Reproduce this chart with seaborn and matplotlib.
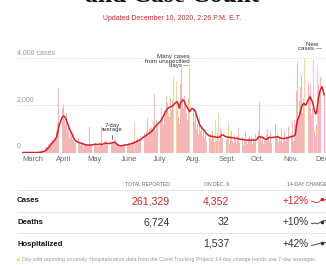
import numpy as np
import pandas as pd
import matplotlib
matplotlib.use('Agg')
import matplotlib.pyplot as plt
import seaborn as sns

sns.set_style('white')
plt.rcParams['font.family'] = ['Liberation Sans', 'DejaVu Sans']

RED = '#d1232a'
PINK = '#f4b6b6'
YELLOW = '#fbd49a'
GRAY = '#999999'

# daily new cases, one list per month (Mar 1 .. Dec 9)
mar = [0, 0, 0, 0, 0, 0, 0, 0, 0, 0, 5, 6, 17, 8, 33, 24, 57, 60, 84, 112,
       167, 222, 253, 232, 345, 300, 420, 390, 520, 480, 560]
apr = [650, 900, 1300, 2730, 2450, 1500, 1900, 2000, 1400, 1200, 1700, 900, 1150, 600, 1000,
       700, 550, 800, 420, 480, 520, 600, 350, 300, 450, 380, 250, 420, 340, 300]
may = [300, 280, 1070, 350, 260, 200, 330, 420, 380, 250, 310, 280, 400, 1100, 350, 260,
       430, 470, 390, 320, 500, 380, 360, 450, 420, 520, 600, 380, 310, 260, 230]
jun = [250, 300, 320, 270, 360, 340, 300, 420, 380, 330, 450, 400, 480, 1310, 380,
       520, 600, 450, 560, 700, 640, 620, 820, 760, 900, 1450, 700, 980, 1050, 1100]
jul = [1000, 1300, 2500, 900, 1400, 1150, 1600, 1300, 1900, 1500, 1200, 1800, 1650, 2400, 2100,
       1700, 1500, 2300, 1800, 2200, 3200, 2000, 3000, 1800, 1500, 1200, 2900, 3580, 2300, 1900, 2400]
aug = [2100, 1700, 1400, 2300, 3620, 1500, 2400, 1900, 1300, 1600, 1000, 1200, 800, 1500, 900,
       1100, 700, 1000, 600, 900, 500, 850, 600, 780, 520, 900, 700, 450, 1380, 500, 820]
sep = [1640, 500, 1100, 900, 600, 400, 800, 550, 700, 1250, 350, 650, 900, 500, 400,
       750, 600, 380, 700, 1050, 420, 500, 650, 300, 550, 900, 480, 350, 600, 700]
oct_ = [500, 650, 350, 600, 450, 800, 400, 900, 2160, 600, 500, 700, 350, 550, 480,
        800, 1000, 650, 500, 900, 400, 700, 550, 1200, 600, 800, 450, 650, 500, 1000, 400]
nov = [550, 900, 500, 700, 650, 1100, 600, 800, 1300, 500, 1400, 1200, 2600, 3860, 1500,
       2200, 2800, 3300, 1700, 2300, 4000, 1800, 2400, 3000, 2500, 2900, 1600, 1900, 3940, 900]
dec = [700, 1200, 3720, 2900, 2600, 3200, 2100, 4400, 2500]

# 7-day average
avg_mar = [0, 0, 0, 0, 0, 0, 0, 0, 0, 0, 0, 0, 0, 0, 0, 0, 0,
           10, 20, 30, 45, 60, 100, 150, 200, 250, 310, 380, 420, 470, 530]
avg_apr = [600, 670, 900, 1100, 1250, 1380, 1480, 1540, 1550, 1480, 1380, 1250, 1130, 1000, 900,
           820, 700, 600, 540, 490, 460, 440, 420, 400, 390, 380, 360, 340, 330, 320]
avg_may = [320, 320, 310, 320, 320, 330, 340, 350, 350, 340, 350, 360, 350, 340, 350, 370,
           390, 400, 390, 380, 380, 390, 400, 410, 430, 440, 420, 380, 340, 310, 290]
avg_jun = [280, 290, 300, 310, 320, 320, 330, 340, 350, 360, 380, 390, 400, 420, 440,
           470, 490, 510, 530, 560, 600, 640, 670, 700, 730, 760, 790, 820, 860, 900]
avg_jul = [950, 1000, 1070, 1120, 1180, 1230, 1270, 1310, 1380, 1450, 1540, 1620, 1720, 1800, 1860,
           1900, 1930, 1950, 1960, 2000, 2050, 2090, 2140, 2160, 2050, 1880, 2100, 2170, 2220, 2230, 2150]
avg_aug = [2020, 1950, 1880, 1800, 1740, 1820, 1880, 1850, 1820, 1760, 1600, 1460, 1330, 1200, 1130,
           1060, 1000, 960, 900, 840, 790, 750, 720, 700, 690, 680, 690, 670, 660, 650, 640]
avg_sep = [650, 660, 700, 740, 750, 720, 690, 670, 660, 650, 650, 640, 640, 630, 620,
           610, 600, 600, 590, 580, 570, 560, 560, 550, 540, 530, 530, 530, 520, 530]
avg_oct = [530, 520, 530, 530, 520, 530, 560, 640, 670, 670, 650, 640, 620, 590, 560,
           560, 600, 640, 640, 630, 640, 640, 650, 650, 660, 670, 660, 640, 620, 600, 600]
avg_nov = [600, 600, 610, 620, 630, 640, 660, 670, 680, 690, 720, 750, 1100, 1380, 1500,
           1600, 1780, 1950, 2050, 2090, 2040, 2020, 2120, 2230, 2300, 2370, 2260, 2160, 1980, 1800]
avg_dec = [1640, 1700, 2090, 2400, 2600, 2700, 2800, 2650, 2450]

# days (since Mar 1) with a reporting anomaly
anomaly_days = [105, 142, 144, 157, 181, 184, 193, 265, 273, 277]

month_starts = [0, 31, 61, 92, 122, 153, 184, 214, 245, 275]
month_labels = ['March', 'April', 'May', 'June', 'July', 'Aug.', 'Sept.', 'Oct.', 'Nov.', 'Dec.']

# table
row_names = ['Cases', 'Deaths', 'Hospitalized']
total_reported = ['261,329', '6,724', '']
on_dec9 = ['4,352', '32', '1,537']
change_14d = ['+12%', '+10%', '+42%']
trend_cases = [2080, 2060, 2010, 1990, 2030, 2160, 2120, 2150]
trend_deaths = [20, 19, 20, 19, 20, 21, 22, 22]
trend_hosp = [1270, 1300, 1340, 1380, 1430, 1480, 1500, 1510]

cases = mar + apr + may + jun + jul + aug + sep + oct_ + nov + dec
avg = avg_mar + avg_apr + avg_may + avg_jun + avg_jul + avg_aug + avg_sep + avg_oct + avg_nov + avg_dec
days = list(range(len(cases)))
df = pd.DataFrame({'day': days, 'cases': cases, 'avg': avg})

W, H = 326, 265
fig = plt.figure(figsize=(W / 100, H / 100), dpi=100)

# main chart, placed in pixel units
ax = fig.add_axes([17 / W, 1 - 152.5 / H, 309 / W, 112.5 / H])
sns.barplot(data=df, x='day', y='cases', color=PINK, native_scale=True, width=0.85,
            errorbar=None, saturation=1, linewidth=0, edgecolor='none', ax=ax)
# days with a reporting anomaly are drawn in yellow
for bar, d in zip(ax.patches, days):
    if d in anomaly_days:
        bar.set_facecolor(YELLOW)
sns.lineplot(data=df, x='day', y='avg', color=RED, linewidth=1.1, ax=ax, zorder=5)
ax.set_xlim(-5.35, 284.8)
ax.set_ylim(0, 4787)
for v in [2000, 4000]:
    ax.axhline(v, color='#cccccc', linewidth=0.6, linestyle=(0, (1, 1.5)), zorder=0)
ax.axhline(0, color='#bbbbbb', linewidth=0.6, zorder=1)
ax.text(-5.35, 4000 + 110, '4,000 cases', fontsize=5, color=GRAY, va='bottom', ha='left')
ax.text(-5.35, 2000 + 110, '2,000', fontsize=5, color=GRAY, va='bottom', ha='left')
ax.text(-5.35, 110, '0', fontsize=5, color=GRAY, va='bottom', ha='left')
ax.set_yticks([])
ax.set_xticks(month_starts)
ax.set_xticklabels(month_labels, ha='left', fontsize=5.4, color='#666666')
ax.tick_params(axis='x', length=0, pad=2.5)
ax.set_xlabel('')
ax.set_ylabel('')
sns.despine(ax=ax, left=True, bottom=True)
ax.patch.set_alpha(0)

# overlay for text, in pixel coordinates
ov = fig.add_axes([0, 0, 1, 1], zorder=-1)
ov.set_xlim(0, W)
ov.set_ylim(H, 0)
ov.axis('off')

ov.text(172, 1.8, 'and Case Count', fontsize=18.4, fontweight='bold', family='Liberation Serif',
        ha='center', va='baseline', color='#121212')
ov.text(172, 19, 'Updated December 10, 2020, 2:26 P.M. E.T.', fontsize=5, color=RED,
        ha='center', va='center')

# annotations
ov.text(112, 127.5, '7-day\naverage', fontsize=4.3, color='#333333', ha='center', va='center',
        linespacing=0.95)
ov.plot([112, 112], [134.5, 139], color='#333333', linewidth=0.5)
ov.text(190, 61, 'Many cases\nfrom unspecified\ndays \u2014', fontsize=4.4, color='#333333',
        ha='right', va='center', multialignment='right', linespacing=0.95)
ov.text(322, 46.5, 'New  \ncases \u2014', fontsize=4.4, color='#333333', ha='right', va='center',
        multialignment='right', linespacing=0.95)

# table
ov.text(170, 184.3, 'TOTAL REPORTED', fontsize=3.7, color='#666666', ha='right', va='center')
ov.text(229.5, 184.3, 'ON DEC. 9', fontsize=3.7, color='#666666', ha='right', va='center')
ov.text(287, 184.3, '14-DAY CHANGE', fontsize=3.7, color='#666666', ha='left', va='center')
for y in [190, 211.7, 233.3]:
    ov.plot([17, W], [y, y], color='#e2e2e2', linewidth=0.6)

row_y = [201, 222.3, 244]
trends = [trend_cases, trend_deaths, trend_hosp]
for i, name in enumerate(row_names):
    y = row_y[i]
    col = RED if i == 0 else '#333333'
    ov.text(17, y, name, fontsize=5.6, fontweight='bold', color='#121212', ha='left', va='center')
    ov.text(170, y, total_reported[i], fontsize=7.6, color=col, ha='right', va='center')
    ov.text(229.5, y, on_dec9[i], fontsize=7.6, color=col, ha='right', va='center')
    ov.text(308.3, y, change_14d[i], fontsize=7.2, color=col, ha='right', va='center')
    # sparkline
    sp = fig.add_axes([310.5 / W, 1 - (y + 3.5) / H, 15.5 / W, 7 / H])
    t = trends[i]
    lo, hi = min(t), max(t)
    pad = (hi - lo) * 0.6
    sns.lineplot(x=list(range(len(t))), y=t, color=col, linewidth=0.6, ax=sp)
    sp.plot([5], [t[5]], 'o', color=col, markersize=1.6)
    sp.set_ylim(lo - pad, hi + pad)
    sp.set_xlim(0, len(t) - 1)
    sp.axis('off')

# footnote
ov.add_patch(plt.Rectangle((17, 257.6), 3.2, 3.2, color=YELLOW, linewidth=0))
ov.text(22.5, 259.3, 'Day with reporting anomaly. Hospitalization data from the Covid Tracking Project; '
        '14-day change trends use 7-day averages.', fontsize=3.8, color=GRAY, ha='left', va='center')

fig.savefig('out.png', dpi=100)
